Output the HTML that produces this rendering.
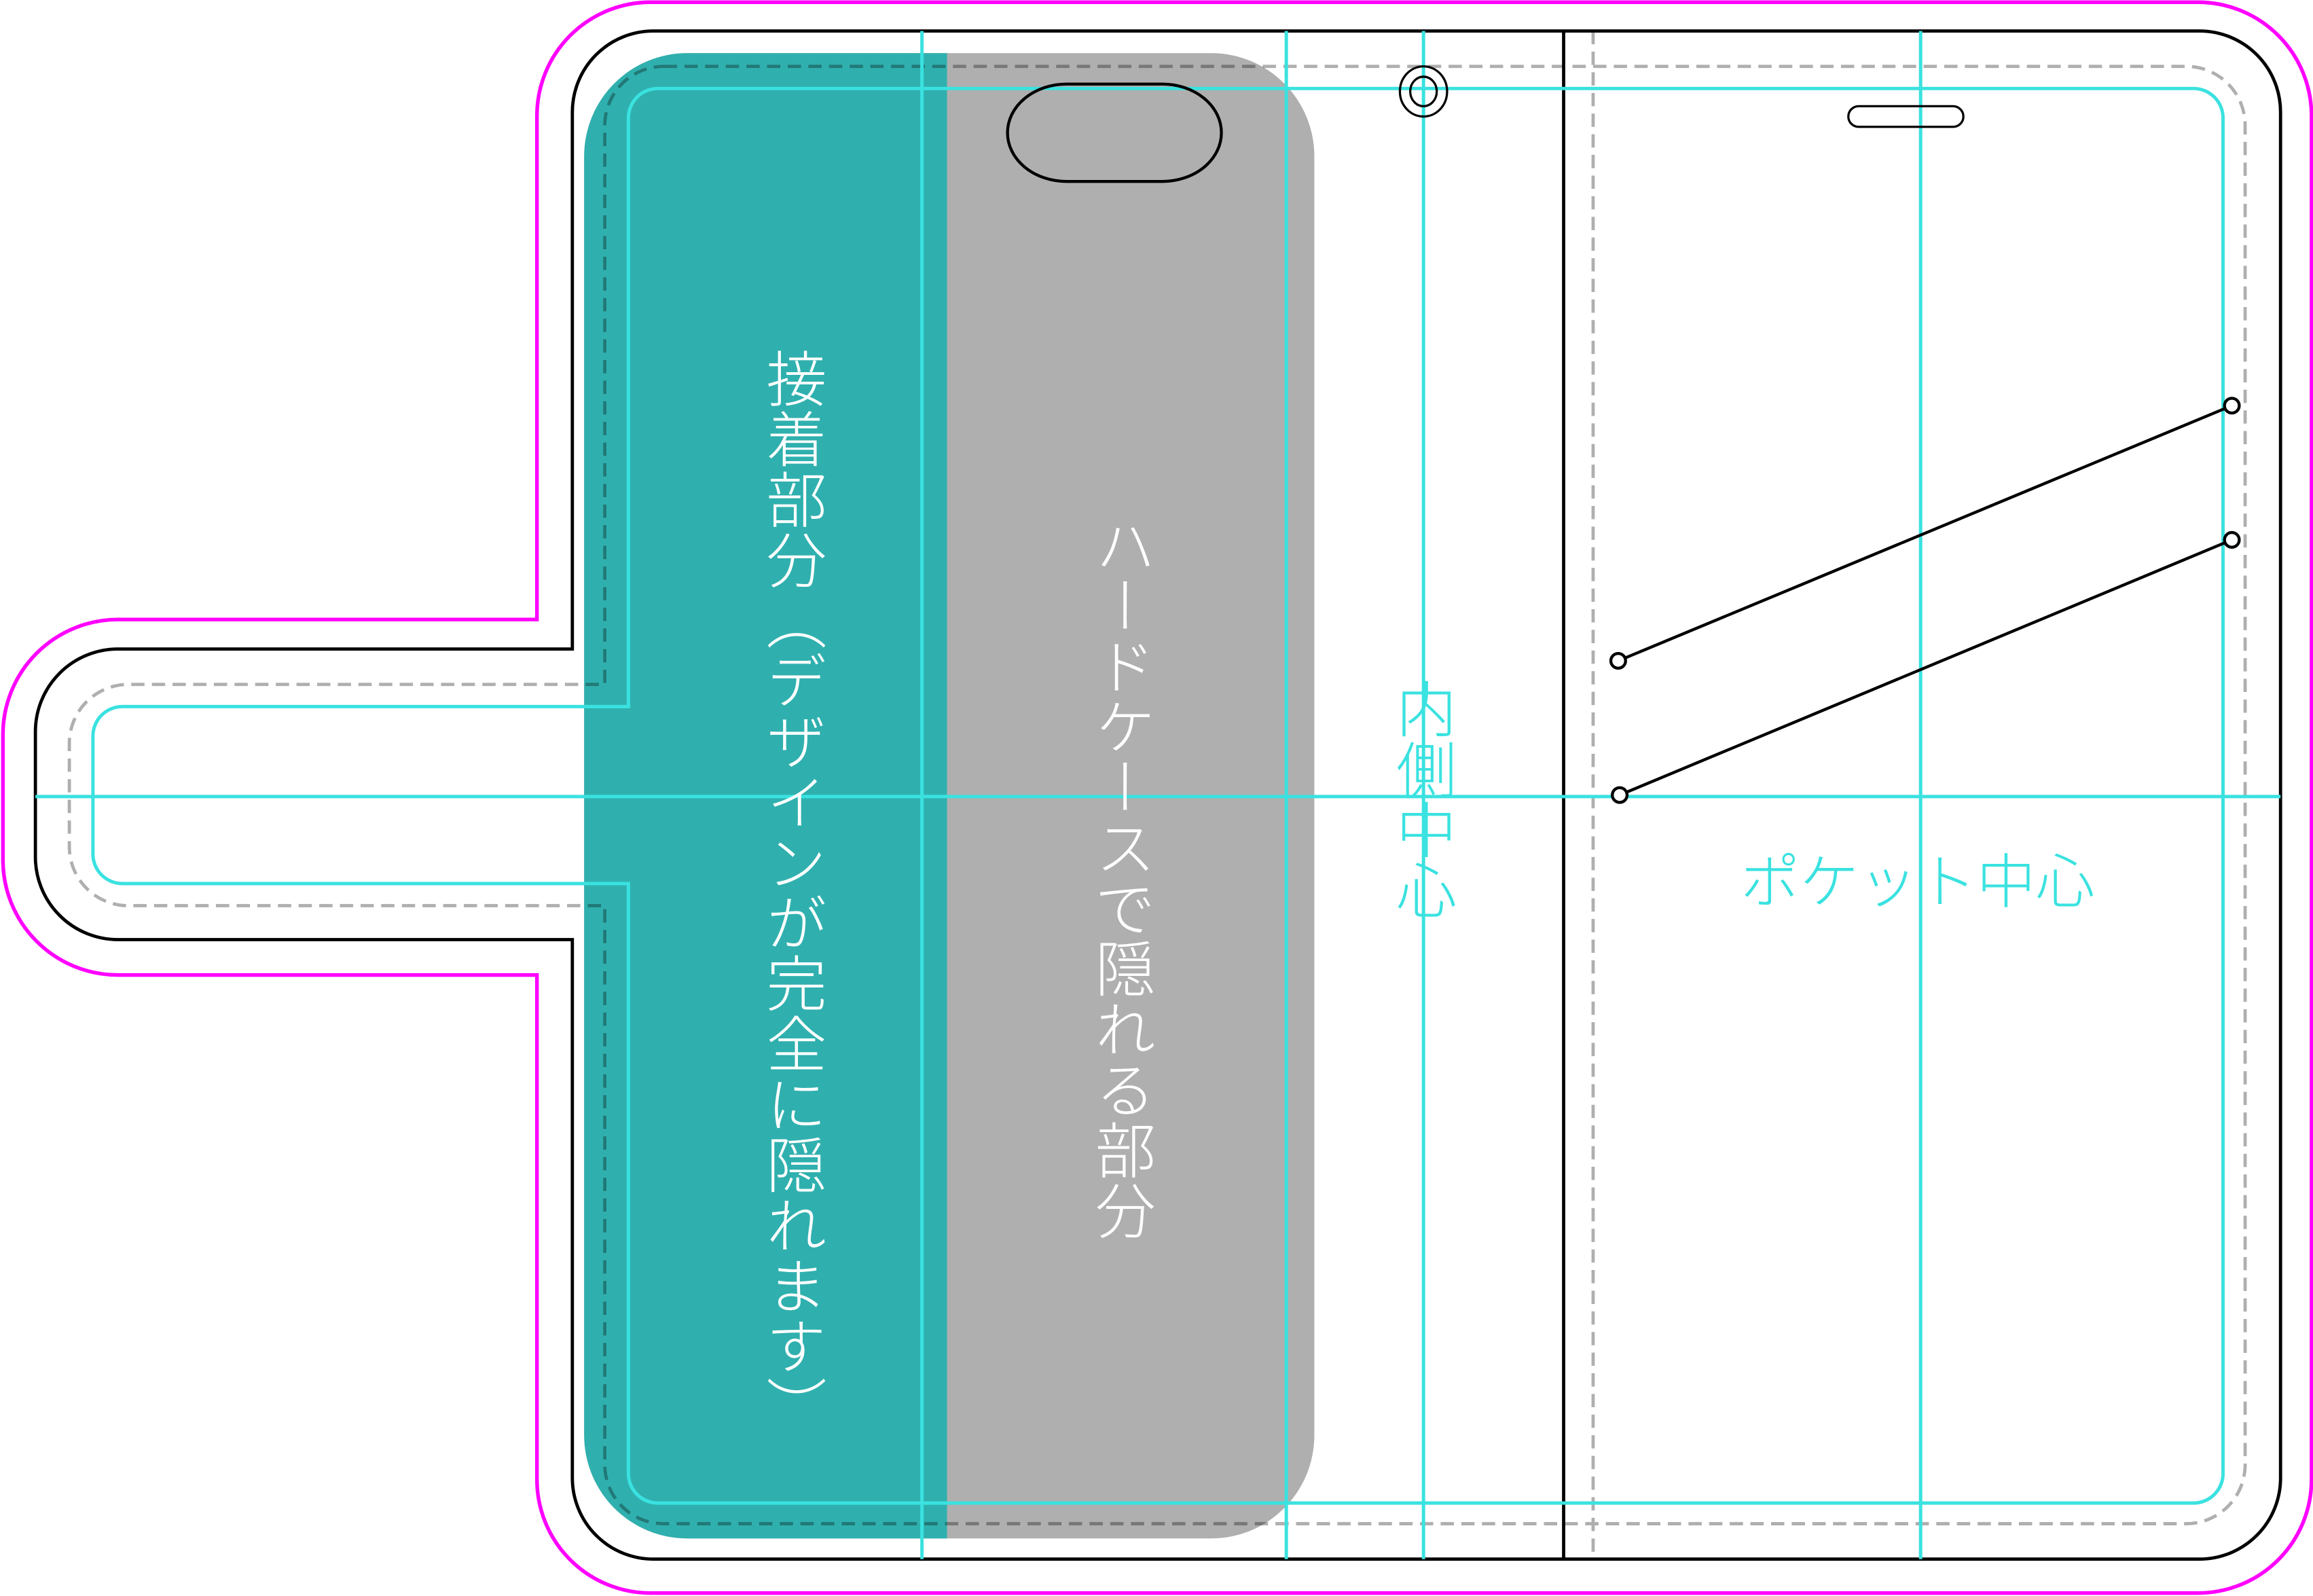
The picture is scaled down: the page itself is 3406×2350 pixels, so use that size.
<!DOCTYPE html>
<html><head><meta charset="utf-8"><style>
html,body{margin:0;padding:0;background:#fff;overflow:hidden}
#w{position:absolute;left:0;top:0;width:1568px;height:1082px;transform:scale(2.17219,2.17190);transform-origin:0 0}
svg{position:absolute;left:0;top:0}
.v{position:absolute;writing-mode:vertical-rl;font-family:"Liberation Sans","Noto Sans CJK JP",sans-serif;font-size:41px;line-height:1;white-space:nowrap;font-weight:300}
.h{position:absolute;font-family:"Liberation Sans","Noto Sans CJK JP",sans-serif;font-size:40px;line-height:1;white-space:nowrap;font-weight:300}
</style></head><body>
<div id="w">
<svg width="1568" height="1082" viewBox="0 0 1568 1082">
<defs><clipPath id="lc"><rect x="390" y="30" width="252" height="1020"/></clipPath></defs>
<rect x="396" y="36" width="495" height="1007" rx="70" ry="70" fill="#afafaf"/>
<rect x="396" y="36" width="495" height="1007" rx="70" ry="70" fill="#2fb0ae" clip-path="url(#lc)"/>
<path d="M441,1.5 H1490 A77,77 0 0 1 1567,78 V1003 A77,77 0 0 1 1490,1080 H441 A77,77 0 0 1 364,1003 V661 H80 A78,78 0 0 1 2,583 V498 A78,78 0 0 1 80,420 H364 V78 A77,77 0 0 1 441,1.5 Z" fill="none" stroke="#ff00ff" stroke-width="2.5"/>
<path d="M443,21 H1491 A55,55 0 0 1 1546,76 V1002 A55,55 0 0 1 1491,1057 H443 A55,55 0 0 1 388,1002 V637 H80 A56,56 0 0 1 24,581 V496 A56,56 0 0 1 80,440 H388 V76 A55,55 0 0 1 443,21 Z" fill="none" stroke="#000" stroke-width="2.2"/>
<line x1="1060" y1="21" x2="1060" y2="1057" stroke="#000" stroke-width="2.2"/>
<g style="mix-blend-mode:multiply">
<path d="M450,45 H1482 A40,40 0 0 1 1522,85 V993 A40,40 0 0 1 1482,1033 H450 A40,40 0 0 1 410,993 V614 H87 A40,40 0 0 1 47,574 V504 A40,40 0 0 1 87,464 H410 V85 A40,40 0 0 1 450,45 Z" fill="none" stroke="#afafaf" stroke-width="2.2" stroke-dasharray="9,5"/>
<line x1="1080" y1="21" x2="1080" y2="1057" stroke="#afafaf" stroke-width="2.2" stroke-dasharray="9,5"/>
</g>
<g stroke="#3ae2e0" fill="none" stroke-width="2.3">
<path d="M446,60 H1487 A20,20 0 0 1 1507,80 V999 A20,20 0 0 1 1487,1019 H446 A20,20 0 0 1 426,999 V599 H83 A20,20 0 0 1 63,579 V499 A20,20 0 0 1 83,479 H426 V80 A20,20 0 0 1 446,60 Z"/>
<line x1="625" y1="21" x2="625" y2="1057"/>
<line x1="872" y1="21" x2="872" y2="1057"/>
<line x1="965" y1="21" x2="965" y2="1057"/>
<line x1="1302" y1="21" x2="1302" y2="1057"/>
<line x1="24" y1="540" x2="1546" y2="540"/>
</g>
<rect x="683" y="57" width="145" height="66" rx="40" ry="33" fill="none" stroke="#000" stroke-width="2"/>
<ellipse cx="965" cy="62" rx="16" ry="17" fill="none" stroke="#000" stroke-width="1.5"/>
<ellipse cx="965" cy="62" rx="9" ry="10" fill="none" stroke="#000" stroke-width="1.5"/>
<rect x="1253" y="72" width="78" height="14" rx="7" fill="none" stroke="#000" stroke-width="1.5"/>
<g stroke="#000" stroke-width="2" fill="#fff">
<line x1="1097" y1="448" x2="1513" y2="275"/>
<line x1="1098" y1="539" x2="1513" y2="366"/>
<circle cx="1097" cy="448" r="5"/><circle cx="1513" cy="275" r="5"/>
<circle cx="1098" cy="539" r="5"/><circle cx="1513" cy="366" r="5"/>
</g>
</svg>
<div class="v" style="left:515px;top:236px;color:#fff">接着部分（デザインが完全に隠れます）</div>
<div class="v" style="left:738px;top:349px;color:#fff">ハードケースで隠れる部分</div>
<div class="v" style="left:942px;top:460px;color:#3ae2e0">内側中心</div>
<div class="h" style="left:1180px;top:579px;color:#3ae2e0">ポケット中心</div>
</div>
</body></html>
